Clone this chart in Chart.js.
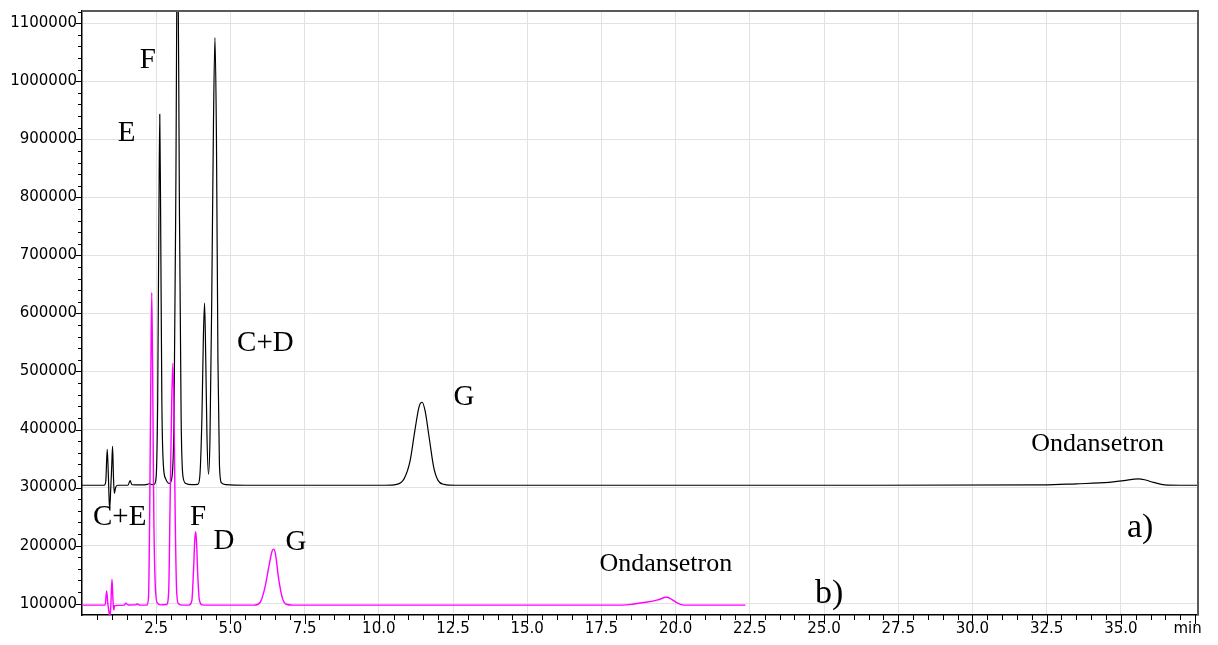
<!DOCTYPE html>
<html>
<head>
<meta charset="utf-8">
<title>Chromatogram</title>
<script src="https://cdn.jsdelivr.net/npm/chart.js@4.4.0/dist/chart.umd.min.js"></script>
<style>
  html, body { margin: 0; padding: 0; background: #fff; }
  canvas { display: block; }
</style>
</head>
<body>
<canvas id="chromChart" width="1218" height="645"></canvas>
<script>
// trace a) - black
const traceATime = [
  0.00, 0.75, 0.80, 0.85, 0.89, 0.93, 0.97, 1.00, 1.03, 1.06, 1.09, 1.13, 1.20,
  1.55, 1.62, 1.68, 2.00, 2.20, 2.28, 2.35, 2.44, 2.50, 2.55, 2.59, 2.62, 2.65,
  2.69, 2.74, 2.82, 2.95, 3.03, 3.10, 3.16, 3.22, 3.28, 3.34, 3.40, 3.50, 3.70,
  3.90, 3.97, 4.04, 4.09, 4.13, 4.17, 4.21, 4.26, 4.31, 4.37, 4.43, 4.48, 4.53,
  4.58, 4.63, 4.70, 4.85, 5.50, 10.20, 10.60, 10.85, 11.05, 11.22, 11.36, 11.46,
  11.56, 11.70, 11.85, 12.00, 12.20, 12.60, 25.00, 32.40, 33.50, 34.60, 35.10,
  35.59, 35.80, 36.10, 36.48, 37.00, 37.60
];
const traceASignal = [
  304000, 304000, 310000, 366000, 318000, 262000, 300000, 335000, 371000, 318000, 290000, 300000, 304000,
  304000, 312000, 305000, 304500, 305500, 307000, 305000, 306000, 320000, 450000, 760000, 943000, 760000,
  450000, 340000, 315000, 307000, 318000, 420000, 800000, 1300000, 800000, 420000, 320000, 307000, 305000,
  305500, 320000, 420000, 560000, 618000, 520000, 390000, 323000, 380000, 620000, 930000, 1075000, 900000,
  520000, 340000, 308000, 305000, 304000, 304000, 305500, 315000, 345000, 400000, 440000, 447000,
  432000, 385000, 335000, 312000, 305500, 304000, 304000, 304500, 306500, 309000, 312000,
  315000, 313500, 309000, 304500, 304000, 304000
];

// trace b) - magenta
const traceBTime = [
  0.00, 0.78, 0.83, 0.87, 0.91, 0.94, 0.97, 1.01, 1.04, 1.07, 1.10, 1.20, 1.42,
  1.48, 1.55, 1.80, 1.86, 1.95, 2.18, 2.24, 2.28, 2.32, 2.35, 2.38, 2.42, 2.47,
  2.54, 2.65, 2.85, 2.92, 2.97, 3.02, 3.06, 3.10, 3.14, 3.19, 3.25, 3.40, 3.60,
  3.70, 3.76, 3.80, 3.83, 3.86, 3.90, 3.95, 4.05, 4.50, 5.80, 6.00, 6.15, 6.30,
  6.40, 6.46, 6.52, 6.62, 6.75, 6.88, 7.10, 18.20, 18.60, 19.00, 19.40, 19.69,
  19.85, 20.05, 20.28, 22.35
];
const traceBSignal = [
  97500, 97500, 122000, 100000, 85000, 77000, 95000, 142000, 110000, 89000, 96500, 97000, 97500,
  100700, 97800, 98000, 99500, 97500, 97500, 110000, 250000, 500000, 636000, 500000, 250000, 130000,
  101000, 98000, 98500, 120000, 280000, 440000, 514000, 430000, 250000, 120000, 100000, 97500, 97500,
  105000, 160000, 210000, 224000, 205000, 150000, 108000, 98000, 97500, 97500, 102000, 125000, 165000,
  190000, 194000, 185000, 145000, 110000, 99000, 97500, 97500, 99500, 102400, 106500, 111000,
  108000, 101500, 97500, 97500
];

// axes
const xTickValues = [2.5, 5, 7.5, 10, 12.5, 15, 17.5, 20, 22.5, 25, 27.5, 30, 32.5, 35];
const xUnitLabel = 'min';
const xUnitPos = 37.25;
const yTickValues = [100000, 200000, 300000, 400000, 500000, 600000, 700000, 800000, 900000, 1000000, 1100000];

// peak annotations
const annoText = ['F', 'E', 'C+D', 'G', 'Ondansetron', 'C+E', 'F', 'D', 'G', 'Ondansetron', 'a)', 'b)'];
const annoTime = [2.22, 1.50, 6.18, 12.87, 34.22, 1.27, 3.91, 4.78, 7.21, 19.67, 35.65, 25.17];
const annoSignal = [1036000, 910500, 548700, 454800, 375200, 248000, 248000, 206800, 205400, 168100, 229600, 116000];
const annoSize = [29, 29, 29, 29, 26, 29, 29, 29, 29, 26, 34, 34];

const toPoints = (xs, ys) => xs.map((x, i) => ({ x: x, y: ys[i] }));

const gridColor = '#e2e2e2';

const frameAndTicks = {
  id: 'frameAndTicks',
  afterDatasetsDraw(chart) {
    const { ctx, chartArea: a, scales: { x, y } } = chart;
    ctx.save();
    // top & right frame
    ctx.strokeStyle = '#5a5a5a';
    ctx.lineWidth = 2;
    ctx.beginPath();
    ctx.moveTo(a.left, a.top);
    ctx.lineTo(a.right, a.top);
    ctx.lineTo(a.right, a.bottom);
    ctx.stroke();

    // tick marks
    ctx.strokeStyle = '#000';
    ctx.lineWidth = 1;
    ctx.beginPath();
    for (let i = 1; i <= 75; i++) {
      const t = i * 0.5;
      const px = Math.round(x.getPixelForValue(t)) + 0.5;
      const len = (i % 5 === 0) ? 9 : 5;
      ctx.moveTo(px, a.bottom);
      ctx.lineTo(px, a.bottom + len);
    }
    for (let v = 100000; v <= 1120000; v += 20000) {
      const py = Math.round(y.getPixelForValue(v)) + 0.5;
      const len = (v % 100000 === 0) ? 6 : 4;
      ctx.moveTo(a.left, py);
      ctx.lineTo(a.left - len, py);
    }
    ctx.stroke();

    // peak labels
    ctx.fillStyle = '#000';
    ctx.textAlign = 'center';
    ctx.textBaseline = 'middle';
    annoText.forEach((txt, i) => {
      ctx.font = annoSize[i] + 'px "Liberation Serif", "Times New Roman", serif';
      ctx.fillText(txt, x.getPixelForValue(annoTime[i]), y.getPixelForValue(annoSignal[i]));
    });
    ctx.restore();
  }
};

const ctx = document.getElementById('chromChart').getContext('2d');
new Chart(ctx, {
  type: 'line',
  data: {
    datasets: [
      {
        label: 'a)',
        data: toPoints(traceATime, traceASignal),
        borderColor: '#000000',
        borderWidth: 1.2,
        pointRadius: 0,
        cubicInterpolationMode: 'monotone',
        order: 1
      },
      {
        label: 'b)',
        data: toPoints(traceBTime, traceBSignal),
        borderColor: '#ff00ff',
        borderWidth: 1.4,
        pointRadius: 0,
        cubicInterpolationMode: 'monotone',
        order: 0
      }
    ]
  },
  options: {
    responsive: false,
    animation: false,
    devicePixelRatio: 1,
    layout: { padding: { left: 0, right: 20, top: 11, bottom: 0 } },
    plugins: {
      legend: { display: false },
      tooltip: { enabled: false }
    },
    scales: {
      x: {
        type: 'linear',
        min: 0,
        max: 37.6,
        afterFit: (s) => { s.height = 30; s.paddingLeft = 0; s.paddingRight = 0; },
        afterBuildTicks: (s) => {
          s.ticks = xTickValues.map(v => ({ value: v })).concat([{ value: xUnitPos }]);
        },
        grid: {
          drawTicks: false,
          color: (c) => (c.tick && xTickValues.includes(c.tick.value)) ? gridColor : 'rgba(0,0,0,0)'
        },
        border: { color: '#000', width: 1.5 },
        ticks: {
          autoSkip: false,
          maxRotation: 0,
          minRotation: 0,
          padding: 5,
          color: '#000',
          font: { family: 'DejaVu Sans', size: 15 },
          callback: (v) => v === xUnitPos ? xUnitLabel : Number(v).toFixed(1)
        }
      },
      y: {
        type: 'linear',
        min: 80500,
        max: 1121000,
        afterFit: (s) => { s.width = 82; s.paddingTop = 0; s.paddingBottom = 0; },
        afterBuildTicks: (s) => {
          s.ticks = yTickValues.map(v => ({ value: v }));
        },
        grid: { drawTicks: false, color: gridColor },
        border: { color: '#000', width: 1.5 },
        ticks: {
          autoSkip: false,
          padding: 5,
          color: '#000',
          font: { family: 'DejaVu Sans', size: 15 },
          callback: (v) => String(v)
        }
      }
    }
  },
  plugins: [frameAndTicks]
});
</script>
</body>
</html>
